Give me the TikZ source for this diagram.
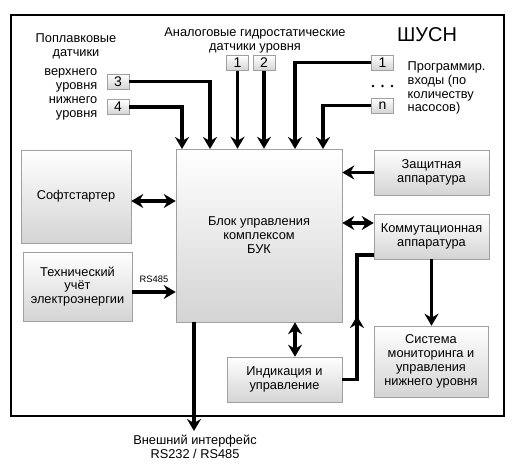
\documentclass[tikz,border=0pt]{standalone}
\usepackage{fontspec}
\setmainfont{Liberation Sans}
\usepackage{tikz}
\usetikzlibrary{
	arrows.meta,
	calc,
	positioning
}
\definecolor{BoxEdge}{RGB}{160,160,160}
\definecolor{BoxShade}{RGB}{212,212,212}

\begin{document}
\begin{tikzpicture}[x=0.75pt, y=-0.75pt,
		font=\fontsize{9.6}{10.4}\selectfont,
		box/.style={draw=BoxEdge, top color=white, bottom color=BoxShade, align=center, inner sep=0pt},
		num/.style={box, minimum width=16.5pt, minimum height=11.25pt, font=\fontsize{10.5}{11}\selectfont},
		wire/.style={line width=2.3pt},
		arr/.style={wire, -{Stealth[length=9pt, width=10.5pt, inset=3pt]}},
		darr/.style={wire, {Stealth[length=9pt, width=10.5pt, inset=3pt]}-{Stealth[length=9pt, width=10.5pt, inset=3pt]}}]
	\useasboundingbox (0,0) rectangle (514,473);
	\draw[line width=0.8pt] (11,15) rectangle (504,416);
	% blocks
	\node[box, minimum width=82.5pt, minimum height=69.75pt] (soft) at (76,196.5) {Софтстартер};
	\node[box, minimum width=81.75pt, minimum height=51.75pt] (tech) at (77.5,286.5) {Технический\\учёт\\электроэнергии};
	\node[box, minimum width=124.5pt, minimum height=129.75pt] (buk) at (259,235.5) {Блок управления\\комплексом\\БУК};
	\node[box, minimum width=86.25pt, minimum height=33.75pt] (zash) at (431.5,172.5) {Защитная\\аппаратура};
	\node[box, minimum width=86.25pt, minimum height=33.75pt] (komm) at (431.5,236.5) {Коммутационная\\аппаратура};
	\node[box, minimum width=85.5pt, minimum height=53.25pt] (sys) at (431,361.5) {Система\\мониторинга и\\управления\\нижнего уровня};
	\node[box, minimum width=86.25pt, minimum height=33.75pt] (ind) at (284.5,379.5) {Индикация и\\управление};
	% sensors
	\node[num] (s3) at (118,81.5) {3};
	\node[num] (s4) at (118,107) {4};
	\node[num] (a1) at (237.5,63) {1};
	\node[num] (a2) at (264,63) {2};
	\node[num] (p1) at (382.5,62.5) {1};
	\node[num] (pn) at (382.5,105.5) {n};
	% labels
	\node[align=center] (floatlbl) at (76,46) {Поплавковые\\датчики};
	\node[align=center] (analbl) at (255,40) {Аналоговые гидростатические\\датчики уровня};
	\node[font=\fontsize{15}{16}\selectfont] (title) at (427,35) {ШУСН};
	\node[align=right, anchor=east] (uplbl) at (102,80) {верхнего\\уровня};
	\node[align=right, anchor=east] (lowlbl) at (102,108) {нижнего\\уровня};
	\node[align=left, anchor=west] (proglbl) at (403,88) {Программир.\\входы (по\\количеству\\насосов)};
	\foreach \x in {373,382.5,392}
		\fill (\x,86) circle (1.3);
	\node[font=\fontsize{7}{8}\selectfont] (rslbl) at (154,279) {RS485};
	% inputs
	\coordinate (inA) at (182,149);
	\coordinate (inB) at (210,149);
	\coordinate (inE) at (295,149);
	\coordinate (inF) at (323,149);
	\draw[arr] (s3.east) -| (inB);
	\draw[arr] (s4.east) -| (inA);
	\draw[arr] (a1.south) -- (a1.south |- buk.north);
	\draw[arr] (a2.south) -- (a2.south |- buk.north);
	\draw[arr] (p1.west) -| (inE);
	\draw[arr] (pn.west) -| (inF);
	% links
	\draw[darr] ($(soft.east)+(0,4.5)$) -- ($(soft.east -| buk.west)+(0,4.5)$);
	\draw[arr] ($(tech.east)+(0,5.5)$) -- ($(tech.east -| buk.west)+(0,5.5)$);
	\draw[arr] (zash.west) -- (zash.west -| buk.east);
	\draw[darr] ($(komm.west)+(0,-13.5)$) -- ($(komm.west -| buk.east)+(0,-13.5)$);
	\draw[arr] (komm.south) -- (komm.south |- sys.north);
	\coordinate (iu) at ($(ind.north)+(10.5,0)$);
	\draw[darr] (iu) -- (iu |- buk.south);
	\coordinate (km) at (357,316);
	\coordinate (kt) at (357,255);
	\draw[arr] (ind.east) -| (km);
	\draw[wire] ($(km)+(0,6)$) -- (kt) -- (kt -| komm.west);
	% external
	\coordinate (ext) at (194,431);
	\draw[arr] (buk.south -| ext) -- (ext);
	\node[align=center] (extlbl) at (195,447) {Внешний интерфейс\\RS232 / RS485};
\end{tikzpicture}
\end{document}
